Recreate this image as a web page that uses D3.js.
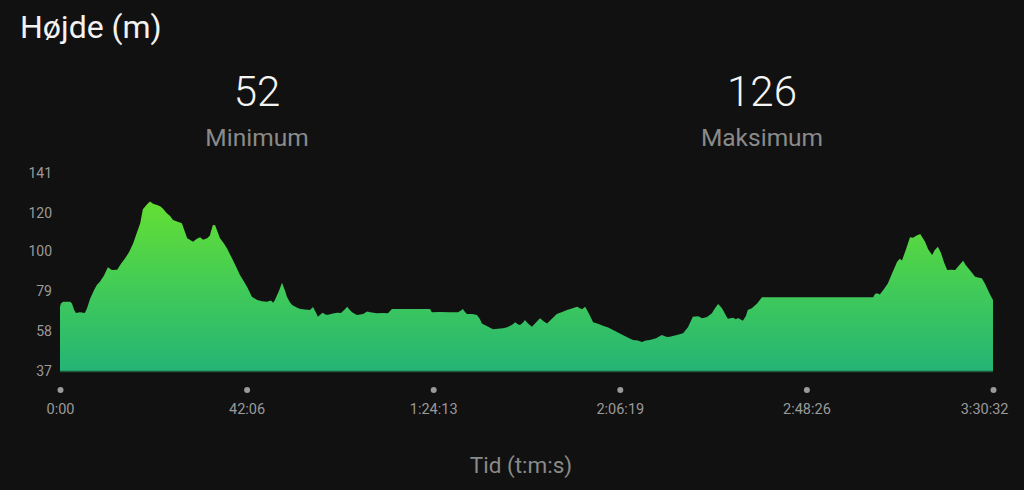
<!DOCTYPE html>
<html>
<head>
<meta charset="utf-8">
<script src="https://cdn.jsdelivr.net/npm/d3@7"></script>
<style>
  html, body { margin: 0; padding: 0; background: #111111; }
  svg { display: block; }
</style>
</head>
<body>
<svg id="chart" width="1024" height="490"></svg>
<script>
// ---- data ----
const title = "Højde (m)";
const xAxisTitle = "Tid (t:m:s)";
const statValues = ["52", "126"];
const statLabels = ["Minimum", "Maksimum"];
const totalSeconds = 12632; // 3:30:32
const yTicks = [37, 58, 79, 100, 120, 141];
const xTickLabels = ["0:00", "42:06", "1:24:13", "2:06:19", "2:48:26", "3:30:32"];

// elapsed time (minutes)
const minutes = [
  0, 0.2, 0.7, 1.6, 2.3, 2.7, 3.2, 3.6, 4.5, 5.6, 6.1, 6.8, 7.7, 8.3, 9.0, 9.9,
  10.8, 11.7, 12.9, 13.8, 14.7, 15.6, 16.5, 17.4, 18.1, 18.7, 19.6, 20.3, 21.0, 21.9,
  22.6, 23.2, 24.1, 24.8, 25.5, 26.4, 27.5, 28.2, 28.7, 29.3, 30.0, 30.9, 31.6, 32.3,
  33.2, 33.8, 34.5, 35.0, 35.4, 36.1, 37.0, 37.7, 38.4, 39.0, 39.9, 40.6, 41.5, 42.2,
  42.9, 43.3, 44.5, 45.6, 46.7, 47.6, 48.1, 48.5, 49.4, 50.1, 50.8, 51.2, 51.9, 52.4,
  53.3, 54.2, 55.3, 56.4, 57.1, 57.8, 58.2, 58.9, 59.3, 60.0, 60.5, 61.6, 62.5, 63.4,
  64.3, 64.8, 65.4, 65.9, 67.0, 68.4, 69.3, 70.0, 71.5, 72.9, 74.0, 74.9, 76.7, 79.0,
  81.2, 83.5, 83.9, 85.7, 88.0, 89.8, 90.5, 90.9, 91.4, 91.8, 93.0, 94.1, 94.8, 95.2,
  96.4, 97.7, 98.8, 100.0, 100.9, 101.5, 102.2, 102.7, 103.3, 103.8, 104.5, 104.9,
  105.6, 106.5, 107.4, 108.3, 109.2, 109.9, 111.0, 112.1, 113.3, 114.4, 115.5, 116.7,
  117.3, 117.8, 118.5, 119.4, 120.3, 121.4, 122.5, 123.7, 124.8, 125.9, 127.0, 128.2,
  129.3, 130.4, 131.3, 132.2, 133.1, 134.5, 135.8, 136.5, 137.0, 137.6, 139.0, 140.6,
  141.7, 142.8, 144.0, 144.9, 146.0, 147.1, 147.8, 148.5, 149.2, 149.6, 150.3, 150.7,
  151.9, 152.5, 153.0, 154.1, 154.8, 155.2, 156.1, 157.3, 158.0, 158.4, 167.0, 178.3,
  183.5, 183.9, 184.4, 185.0, 185.9, 186.8, 187.7, 188.9, 189.5, 190.0, 190.9, 191.8,
  192.5, 193.2, 194.1, 194.5, 195.2, 195.9, 196.8, 197.4, 198.1, 198.8, 199.5, 200.2,
  201.1, 202.0, 202.9, 203.8, 204.4, 205.3, 206.0, 206.5, 207.4, 208.0, 208.7, 209.2,
  209.9, 210.53
];

// elevation (m)
const elevation = [
  70.8, 72.5, 73.4, 73.4, 73.4, 72.5, 69, 67.5, 67.8, 67.5, 70, 75, 79.5, 82.2, 83.9, 87,
  91.5, 90, 90.2, 93.5, 96.2, 99.5, 104, 110, 114.6, 121.9, 124.5, 126, 124.8, 124.2,
  123.5, 122.4, 119.8, 118.5, 116.3, 115.5, 114.6, 110, 106.7, 106, 104.9, 106.5, 107.2, 106,
  106.7, 108, 113.7, 113.5, 111, 106.7, 104, 101.4, 98, 95.3, 91, 87.4, 84, 81.3,
  78, 76, 74.3, 73.6, 73.4, 74, 72.8, 74.3, 79, 83.4, 79, 76, 73, 71.7,
  70.5, 69.6, 69.3, 69, 70.6, 67.5, 65.5, 67, 67.6, 66.5, 66.6, 67.2, 67.6, 67.5,
  69.5, 70.8, 69, 67.8, 66.4, 67, 68.2, 67.8, 67.3, 67.5, 67.3, 69.6, 69.6, 69.6,
  69.6, 69.6, 67.8, 68, 67.8, 67.8, 68.8, 69.6, 68, 67, 67, 66.4, 64, 62,
  60.5, 58.9, 59.2, 59.4, 60, 60.6, 61.5, 62.6, 61.5, 61.2, 62.5, 63.8,
  62, 60.3, 62.5, 64.7, 63, 62, 64.5, 66.9, 68, 69, 69.8, 70.8,
  70, 69.5, 70.8, 67, 62.6, 61.8, 60.8, 59.8, 58.5, 57.2, 55.9, 54.5,
  53.3, 53, 52.2, 53, 53.3, 54.2, 55.9, 55.2, 54.8, 55, 55.8, 56.8,
  60, 65.5, 65.8, 64.7, 65.3, 67.3, 70, 72.2, 70.5, 69, 66, 64.4,
  65, 64.2, 64.8, 63.4, 66, 69, 70, 72.5, 74.5, 75.7, 75.7, 75.7,
  75.7, 77.5, 77.8, 77.2, 80, 83, 88, 94.4, 96, 95, 101, 107.2,
  107, 108, 109, 107.5, 104.9, 101, 97.9, 100.5, 102.3, 99, 94, 90,
  90.2, 90, 92.5, 94.9, 92.5, 90, 88, 86.5, 86, 85.7, 83, 80.4,
  77, 74.3
];

// ---- chart ----
const svg = d3.select("#chart");
const W = 1024, H = 490;
const plotLeft = 60, plotRight = 993, plotTop = 173, plotBottom = 371;
const font = "Roboto, 'Noto Sans', sans-serif";

svg.append("rect").attr("width", W).attr("height", H).attr("fill", "#111111");

const data = minutes.map((m, i) => ({ t: m * 60, e: elevation[i] }));

const x = d3.scaleLinear().domain([0, totalSeconds]).range([plotLeft, plotRight]);
const y = d3.scaleLinear().domain([37, 141]).range([plotBottom, plotTop]);

// title
svg.append("text").attr("x", 20).attr("y", 38)
  .attr("fill", "#f2f2f2").attr("font-family", font)
  .attr("font-size", 32).attr("font-weight", 400).text(title);

// stats
const statX = [257, 762];
statValues.forEach((v, i) => {
  svg.append("text").attr("x", statX[i]).attr("y", 106)
    .attr("text-anchor", "middle").attr("fill", "#f4f4f4")
    .attr("font-family", font).attr("font-size", 42).attr("font-weight", 300).text(v);
  svg.append("text").attr("x", statX[i]).attr("y", 146)
    .attr("text-anchor", "middle").attr("fill", "#8a8a8a")
    .attr("font-family", font).attr("font-size", 24.5).attr("font-weight", 400).text(statLabels[i]);
});

// gradient
const defs = svg.append("defs");
const grad = defs.append("linearGradient").attr("id", "g")
  .attr("gradientUnits", "userSpaceOnUse")
  .attr("x1", 0).attr("x2", 0)
  .attr("y1", y(d3.max(elevation))).attr("y2", y(37));
grad.append("stop").attr("offset", 0).attr("stop-color", "#64df33");
grad.append("stop").attr("offset", 0.55).attr("stop-color", "#3fc95a");
grad.append("stop").attr("offset", 1).attr("stop-color", "#25b476");

const area = d3.area().x(d => x(d.t)).y0(y(37)).y1(d => y(d.e)).curve(d3.curveLinear);
svg.append("path").datum(data).attr("d", area).attr("fill", "url(#g)");

// baseline
svg.append("line").attr("x1", plotLeft).attr("x2", plotRight)
  .attr("y1", plotBottom + 0.5).attr("y2", plotBottom + 0.5)
  .attr("stroke", "#1d5a3a").attr("stroke-width", 1.5);

// y axis labels
const yAxis = d3.axisLeft(y).tickValues(yTicks).tickSize(0).tickPadding(0);
const yg = svg.append("g").attr("transform", `translate(${plotLeft - 8},0)`).call(yAxis);
yg.select(".domain").remove();
yg.selectAll("text").attr("fill", "#9a9a9a").attr("font-family", font).attr("font-size", 14);

// x axis: dots + labels
const xTickVals = xTickLabels.map((_, i) => totalSeconds * i / (xTickLabels.length - 1));
const xAxis = d3.axisBottom(x).tickValues(xTickVals)
  .tickFormat((d, i) => xTickLabels[i]).tickSize(0).tickPadding(0);
const xg = svg.append("g").attr("transform", `translate(0,${plotBottom})`).call(xAxis);
xg.select(".domain").remove();
xg.selectAll(".tick").append("circle").attr("cx", 0).attr("cy", 19).attr("r", 3).attr("fill", "#9a9a9a");
xg.selectAll("text").attr("fill", "#9a9a9a").attr("font-family", font)
  .attr("font-size", 14.5).attr("y", 43).attr("dy", 0);
xg.selectAll(".tick").filter((d, i) => i === xTickLabels.length - 1)
  .select("text").attr("text-anchor", "end").attr("x", 1008 - plotRight);

// x axis title
svg.append("text").attr("x", 521).attr("y", 473).attr("text-anchor", "middle")
  .attr("fill", "#8a8a8a").attr("font-family", font).attr("font-size", 22.5).text(xAxisTitle);
</script>
</body>
</html>
